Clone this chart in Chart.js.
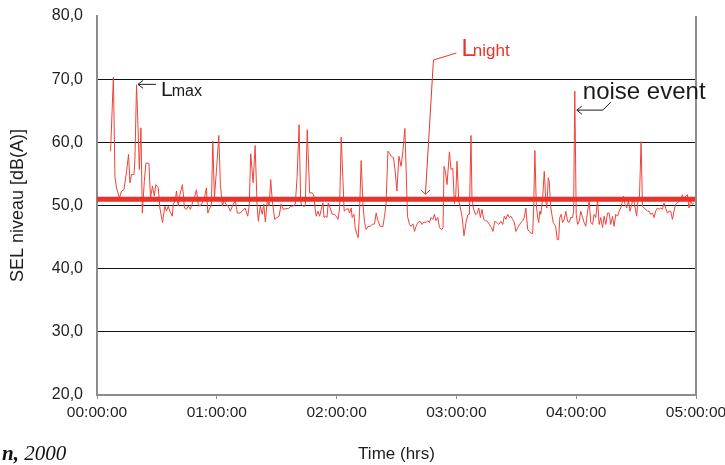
<!DOCTYPE html>
<html>
<head>
<meta charset="utf-8">
<script src="https://cdn.jsdelivr.net/npm/chart.js@4"></script>
<style>
html, body { margin: 0; padding: 0; background: #fff; }
#wrap { position: relative; width: 725px; height: 465px; }
#src { position: absolute; left: 2px; top: 441px; font: italic 21px "Liberation Serif", "Times New Roman", serif; color: #111; white-space: nowrap; }
</style>
</head>
<body>
<div id="wrap">
  <canvas id="chart" width="725" height="465"></canvas>
  <div id="src"><b>n,</b> 2000</div>
</div>
<script>
// time in minutes after 00:00:00, SEL level in dB(A)
const minutes = [
  6.8, 8.2, 9.0, 9.8, 11.2, 12.3, 13.5, 14.8, 15.8, 16.5, 17.3, 18.5, 19.0, 19.8, 20.5, 21.2, 22.0, 22.7, 23.7, 24.5,
  26.0, 26.8, 27.8, 28.7, 29.5, 30.7, 31.5, 32.8, 34.0, 34.8, 35.7, 36.5, 37.7, 38.2, 39.2, 39.8, 40.7, 41.5, 42.8, 43.8,
  44.8, 45.7, 46.8, 47.8, 49.0, 49.8, 50.7,
  51.5, 52.8, 54.0, 54.8, 55.5, 56.5, 57.3, 58.0, 58.8, 59.8, 61.0, 61.8, 62.8, 63.7, 64.5, 65.7, 66.8, 68.2, 69.3, 70.3,
  71.5, 72.8, 74.2, 75.5, 76.2, 77.0, 78.2, 79.2, 80.2, 80.8, 81.8, 82.8, 83.5, 84.3, 85.3, 86.2, 87.0, 87.8, 89.0, 90.2,
  91.2, 92.2, 93.2, 94.5, 95.8, 97.2, 98.2, 99.3, 100.2, 101.2,
  102.0, 102.3, 103.2, 104.3, 105.3, 106.5, 107.7, 108.5, 109.2, 109.8, 110.7, 111.5, 112.3, 113.2, 113.7, 114.5, 115.2,
  115.8, 116.8, 117.8, 119.0, 119.8, 120.7, 121.5, 122.3, 123.2, 123.8, 124.8, 125.8, 126.5, 127.3, 127.8, 128.7, 129.3,
  130.2, 130.8, 131.5, 132.3, 133.2, 134.0, 134.8, 135.7, 136.8, 137.8, 139.0, 139.8, 140.8, 141.8, 143.2, 144.0, 144.8,
  145.7, 146.5, 147.3, 148.5, 149.3, 150.2, 151.2,
  152.3, 153.2, 154.2, 154.8, 155.5, 156.5, 157.3, 158.2, 159.0, 159.8, 160.7, 161.8, 162.8, 163.7, 164.8, 165.7, 166.5,
  167.3, 168.2, 169.0, 169.8, 170.7, 171.5, 172.7, 173.3, 173.8, 174.5, 175.3, 176.5, 177.3, 178.2, 179.0, 179.7, 180.3,
  181.2, 182.0, 182.8, 183.8, 184.8, 185.7, 186.5, 187.3, 187.8, 188.5, 189.5, 190.3, 191.2, 192.0, 192.8, 193.7, 194.5,
  195.5, 196.5, 197.5, 198.3, 199.2, 200.2, 201.2,
  202.3, 203.2, 204.0, 204.8, 205.7, 206.5, 207.3, 208.2, 209.0, 209.8, 210.7, 211.5, 212.3, 213.2, 214.0, 214.8, 215.7,
  216.5, 217.3, 218.2, 218.7, 219.3, 220.0, 220.7, 221.2, 221.8, 222.3, 223.2, 224.0, 224.8, 225.3, 226.0, 226.5, 227.2,
  227.8, 228.5, 229.2, 229.8, 230.5, 231.2, 231.8, 232.5, 233.2, 234.0, 234.8, 235.7, 236.5, 237.3, 238.2, 238.7, 239.3,
  240.0, 240.7, 241.5, 242.3, 243.2, 244.0, 244.8, 245.7, 246.5, 247.3, 248.2, 249.0, 249.8, 250.7,
  251.5, 252.3, 253.2, 254.0, 254.8, 255.7, 256.5, 257.3, 258.2, 259.0, 259.8, 260.7, 261.5, 262.3, 263.2, 263.7, 264.5,
  265.3, 266.2, 267.0, 267.8, 268.7, 269.5, 270.3, 271.0, 271.7, 272.5, 273.2, 274.0, 274.8, 275.7, 276.5, 277.3, 278.2,
  279.0, 279.8, 280.7, 281.5, 282.3, 283.2, 284.0, 284.8, 285.7, 286.5, 287.3, 288.2, 289.0, 289.8, 290.7, 291.5, 292.3,
  293.2, 294.0, 294.8, 295.7, 296.5, 297.3, 298.2, 299.0
];
const levels = [
  58.6, 70.3, 54.4, 52.8, 51.2, 52.3, 52.5, 55.4, 58.1, 53.6, 54.9, 54.9, 57.3, 69.1, 62.8, 55.7, 62.3, 48.8, 53.8, 56.7,
  56.7, 51.2, 53.1, 51.5, 53.3, 52.8, 49.6, 47.3, 49.9, 49.1, 49.9, 49.1, 48.3, 50.2, 50.7, 52.3, 49.9, 51.7, 53.3, 49.6,
  49.4, 49.9, 49.4, 50.4, 51.5, 52.5, 50.2,
  49.9, 50.4, 51.5, 52.8, 48.8, 49.6, 50.2, 60.2, 51.2, 55.4, 61.1, 53.3, 49.9, 50.9, 50.2, 49.9, 49.1, 50.2, 50.7, 48.8,
  48.8, 49.1, 49.6, 48.3, 49.9, 58.2, 53.6, 59.5, 49.9, 47.5, 49.9, 48.6, 50.2, 47.4, 50.9, 49.9, 54.1, 50.7, 47.8, 48.1,
  48.3, 50.2, 49.4, 49.5, 49.5, 49.9, 49.9, 50.2, 54.4, 62.8,
  50.9, 50.2, 49.9, 49.9, 62.0, 52.0, 52.0, 51.7, 49.6, 48.3, 49.1, 48.3, 49.4, 50.4, 48.1, 48.3, 48.1,
  50.4, 49.6, 48.6, 48.6, 48.3, 47.8, 49.6, 60.8, 53.8, 49.1, 49.4, 49.5, 48.8, 49.6, 48.1, 48.6, 46.5,
  45.4, 44.9, 49.1, 57.1, 50.2, 47.3, 46.2, 46.7, 46.7, 47.0, 47.1, 48.8, 47.5, 46.7, 46.7, 48.3, 50.4,
  58.6, 58.3, 57.8, 57.6, 55.5, 52.3, 57.8,
  56.2, 58.6, 62.2, 55.9, 48.3, 47.0, 46.7, 47.1, 45.9, 46.7, 47.3, 47.5, 47.0, 47.4, 47.3, 47.6, 47.3,
  48.1, 47.8, 48.6, 47.6, 48.1, 46.5, 46.2, 46.5, 56.2, 55.4, 53.3, 58.5, 55.7, 55.9, 50.3, 51.7, 57.0,
  50.7, 49.6, 48.3, 45.2, 47.3, 48.5, 48.6, 61.1, 51.2, 49.6, 48.6, 48.7, 49.6, 48.1, 49.4, 47.8, 47.6,
  47.5, 47.0, 46.5, 45.9, 47.5, 47.3, 47.0,
  47.5, 47.0, 48.3, 47.8, 48.6, 48.1, 48.3, 47.8, 47.3, 45.9, 46.5, 46.9, 47.3, 47.6, 48.1, 49.6, 46.2,
  45.9, 45.6, 45.6, 49.6, 58.7, 50.2, 48.1, 47.3, 49.1, 48.6, 51.2, 55.4, 50.7, 49.6, 54.4, 53.8, 49.9,
  48.6, 47.3, 47.0, 46.5, 44.6, 44.6, 48.1, 48.6, 47.3, 47.8, 49.1, 47.5, 47.3, 48.1, 48.1, 49.1, 68.1,
  48.6, 47.0, 47.5, 49.1, 48.1, 47.3, 46.7, 49.1, 50.7, 47.3, 47.0, 48.6, 48.1, 50.9,
  47.0, 48.1, 46.5, 48.3, 47.0, 48.8, 48.8, 47.0, 48.3, 46.7, 48.6, 48.3, 49.1, 49.6, 50.7, 51.5, 50.2,
  49.6, 50.7, 49.1, 50.2, 51.3, 49.6, 48.3, 51.2, 51.5, 60.1, 49.9, 49.6, 49.4, 49.1, 49.1, 48.6, 48.8,
  48.1, 49.1, 49.6, 49.4, 49.6, 49.4, 50.4, 49.6, 48.8, 49.1, 49.1, 47.8, 49.1, 50.2, 50.4, 50.7, 50.9,
  51.7, 50.9, 51.5, 51.7, 49.6, 50.7, 50.2, 50.4
];
const lnight = 51.0;
const hourTicks = [0, 60, 120, 180, 240, 300];
const yMin = 20, yMax = 80;

const red = 'rgb(234, 50, 42)';
const lineRed = 'rgb(240, 66, 56)';
const font = '"Liberation Sans", Arial, sans-serif';

const series = minutes.map((m, i) => ({ x: m, y: levels[i] }));
const nightLine = [{ x: hourTicks[0], y: lnight }, { x: hourTicks[hourTicks.length - 1], y: lnight }];

function arrowHead(ctx, tx, ty, dir) {
  // dir: 'left' or 'down'
  ctx.beginPath();
  if (dir === 'left') {
    ctx.moveTo(tx + 5, ty - 4); ctx.lineTo(tx, ty); ctx.lineTo(tx + 5, ty + 4);
  } else {
    ctx.moveTo(tx - 4.5, ty - 4); ctx.lineTo(tx, ty); ctx.lineTo(tx + 4.5, ty - 4);
  }
  ctx.stroke();
}

const notes = {
  id: 'notes',
  afterDraw(chart) {
    const { ctx, chartArea: a, scales: { x, y } } = chart;
    ctx.save();
    // right frame
    ctx.strokeStyle = '#8c8c8c';
    ctx.lineWidth = 2;
    ctx.beginPath(); ctx.moveTo(a.right, a.top); ctx.lineTo(a.right, a.bottom); ctx.stroke();

    ctx.lineWidth = 1;
    ctx.textBaseline = 'alphabetic';
    ctx.textAlign = 'left';

    // Lmax
    let tx = x.getPixelForValue(19.8) + 1.5, ty = y.getPixelForValue(69.1) - 0.5;
    ctx.strokeStyle = '#1a1a1a';
    ctx.beginPath(); ctx.moveTo(tx, ty); ctx.lineTo(tx + 18, ty); ctx.stroke();
    arrowHead(ctx, tx, ty, 'left');
    ctx.fillStyle = '#1a1a1a';
    ctx.font = '21px ' + font;
    ctx.fillText('L', tx + 23, ty + 12);
    let w = ctx.measureText('L').width;
    ctx.font = '16px ' + font;
    ctx.fillText('max', tx + 23 + w - 1, ty + 12);

    // Lnight
    tx = x.getPixelForValue(164.5); ty = y.getPixelForValue(lnight) - 5;
    ctx.strokeStyle = red;
    ctx.beginPath();
    ctx.moveTo(tx, ty); ctx.lineTo(tx + 8, a.top + 44); ctx.lineTo(tx + 31, a.top + 37);
    ctx.stroke();
    arrowHead(ctx, tx, ty, 'down');
    ctx.fillStyle = red;
    ctx.font = '24px ' + font;
    ctx.fillText('L', tx + 36, a.top + 40);
    w = ctx.measureText('L').width;
    ctx.font = '17px ' + font;
    ctx.fillText('night', tx + 36 + w - 2, a.top + 40);

    // noise event
    tx = x.getPixelForValue(239.3) + 2; ty = y.getPixelForValue(65.1);
    ctx.strokeStyle = '#1a1a1a';
    ctx.beginPath();
    ctx.moveTo(tx, ty); ctx.lineTo(tx + 26, ty); ctx.lineTo(tx + 34, ty - 8);
    ctx.stroke();
    arrowHead(ctx, tx, ty, 'left');
    ctx.fillStyle = '#1a1a1a';
    ctx.font = '24px ' + font;
    ctx.fillText('noise event', tx + 6, ty - 11);
    ctx.restore();
  }
};

new Chart(document.getElementById('chart'), {
  type: 'line',
  data: {
    datasets: [
      { data: nightLine, borderColor: red, borderWidth: 5, pointRadius: 0, order: 0 },
      { data: series, borderColor: lineRed, borderWidth: 1, pointRadius: 0, tension: 0, order: 1 }
    ]
  },
  options: {
    responsive: false,
    animation: false,
    events: [],
    layout: { padding: { left: 0, right: 29, top: 16, bottom: 0 } },
    plugins: { legend: { display: false }, tooltip: { enabled: false } },
    scales: {
      x: {
        type: 'linear',
        min: hourTicks[0],
        max: hourTicks[hourTicks.length - 1],
        afterBuildTicks: s => { s.ticks = hourTicks.map(v => ({ value: v })); },
        afterFit: s => { s.height = 70; s.paddingLeft = 0; s.paddingRight = 0; },
        border: { color: '#8c8c8c', width: 2 },
        grid: { drawOnChartArea: false, drawTicks: true, tickLength: 4, color: '#8c8c8c' },
        ticks: {
          padding: 4, maxRotation: 0, color: '#1e1e1e',
          font: { family: font, size: 15.5 },
          callback: v => String(v / 60).padStart(2, '0') + ':00:00'
        },
        title: { display: true, text: 'Time (hrs)', color: '#1e1e1e', font: { family: font, size: 17 }, padding: { top: 0, bottom: 0 } }
      },
      y: {
        min: yMin,
        max: yMax,
        afterFit: s => { s.width = 97; s.paddingTop = 0; s.paddingBottom = 0; },
        border: { color: '#8c8c8c', width: 2 },
        grid: {
          drawTicks: false,
          color: c => (c.tick.value === yMin || c.tick.value === yMax) ? 'rgba(0,0,0,0)' : '#111',
          lineWidth: 1
        },
        ticks: {
          stepSize: 10, padding: 14, color: '#1e1e1e',
          font: { family: font, size: 16 },
          callback: v => v.toFixed(1).replace('.', ',')
        },
        title: { display: true, text: 'SEL niveau [dB(A)]', color: '#1e1e1e', font: { family: font, size: 18 }, padding: { top: 7, bottom: 0 } }
      }
    }
  },
  plugins: [notes]
});
</script>
</body>
</html>
